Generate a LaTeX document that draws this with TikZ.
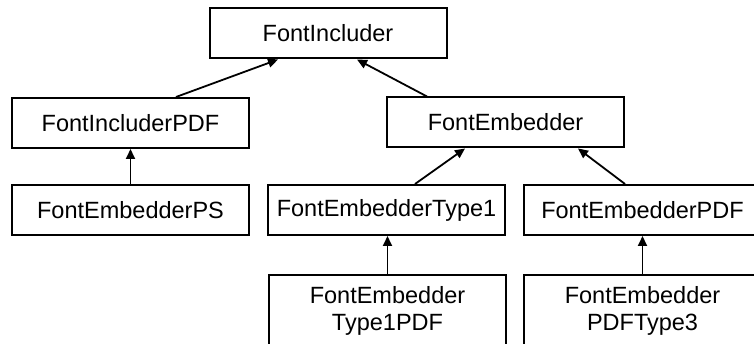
\documentclass[tikz,border=0pt]{standalone}
\usepackage{fontspec}
\setmainfont{Liberation Sans}
\usetikzlibrary{arrows.meta}
\begin{document}
\begin{tikzpicture}[x=1pt,y=-1pt,
  cls/.style={draw=black,line width=2pt,minimum width=237pt,minimum height=50pt,inner sep=0pt,
    font=\fontsize{23.5}{27}\selectfont,align=center},
  tall/.style={cls,minimum height=72pt},
  inh/.style={line width=1.8pt,-{Triangle[length=10pt,width=9pt]}}]
\useasboundingbox (0,0) rectangle (754,344);
\clip (0,0) rectangle (754,344);
\node[cls] (fi) at (328,33.5) {FontIncluder};
\node[cls] (fipdf) at (130.5,123) {FontIncluderPDF};
\node[cls] (fe) at (505.5,122.5) {FontEmbedder};
\node[cls] (feps) at (130.5,210) {FontEmbedderPS};
\node[cls] (fet1) at (386.5,210) {FontEmbedderType1};
\node[cls] (fepdf) at (642.5,210) {FontEmbedderPDF};
\node[tall] (fet1pdf) at (387.5,311) {FontEmbedder\\Type1PDF};
\node[tall] (fepdft3) at (642.5,311) {FontEmbedder\\PDFType3};
\draw[inh] ([xshift=45.5pt]fipdf.north) -- ([xshift=-50pt]fi.south);
\draw[inh] ([xshift=-78.5pt]fe.north) -- ([xshift=29pt]fi.south);
\draw[inh] (feps.north) -- (fipdf.south);
\draw[inh] ([xshift=28.5pt]fet1.north) -- ([xshift=-40.5pt]fe.south);
\draw[inh] ([xshift=-17.5pt]fepdf.north) -- ([xshift=72.5pt]fe.south);
\draw[inh] (fet1pdf.north) -- (fet1.south -| fet1pdf.north);
\draw[inh] (fepdft3.north) -- (fepdf.south);
\end{tikzpicture}
\end{document}
